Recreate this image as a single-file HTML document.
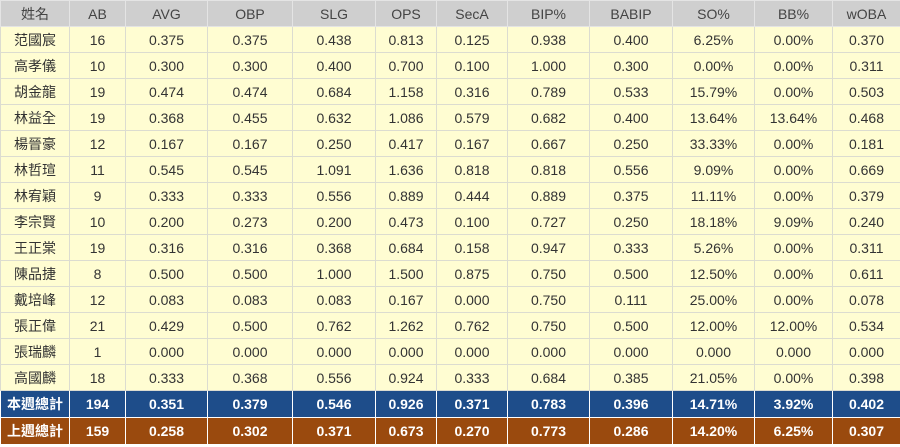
<!DOCTYPE html>
<html><head><meta charset="utf-8"><style>
body{margin:0;width:900px;height:447px;overflow:hidden;background:#fff;font-family:"Liberation Sans","Noto Sans CJK TC",sans-serif;font-size:14px;color:#333}
table{border-collapse:collapse;table-layout:fixed;width:900px}
td{text-align:center;border:1px solid #dcdcd0;padding:0;height:25px;white-space:nowrap}
tr.h td{background:#cfcfcf;height:25px;border-color:#e4e4e4;color:#444}
tr.d td{background:#fffdd2}
tr.b td{background:#1e4d8a;color:#fff;height:26px;border-color:#fff;font-weight:bold}
tr.o td{background:#9a4a0e;color:#fff;height:26px;border-color:#fff;font-weight:bold}
</style></head><body>
<table>
<colgroup><col style="width:69px"><col style="width:56px"><col style="width:82px"><col style="width:85px"><col style="width:83px"><col style="width:61px"><col style="width:71px"><col style="width:82px"><col style="width:83px"><col style="width:82px"><col style="width:78px"><col style="width:68px"></colgroup>
<tr class="h"><td>姓名</td><td>AB</td><td>AVG</td><td>OBP</td><td>SLG</td><td>OPS</td><td>SecA</td><td>BIP%</td><td>BABIP</td><td>SO%</td><td>BB%</td><td>wOBA</td></tr>
<tr class="d"><td>范國宸</td><td>16</td><td>0.375</td><td>0.375</td><td>0.438</td><td>0.813</td><td>0.125</td><td>0.938</td><td>0.400</td><td>6.25%</td><td>0.00%</td><td>0.370</td></tr>
<tr class="d"><td>高孝儀</td><td>10</td><td>0.300</td><td>0.300</td><td>0.400</td><td>0.700</td><td>0.100</td><td>1.000</td><td>0.300</td><td>0.00%</td><td>0.00%</td><td>0.311</td></tr>
<tr class="d"><td>胡金龍</td><td>19</td><td>0.474</td><td>0.474</td><td>0.684</td><td>1.158</td><td>0.316</td><td>0.789</td><td>0.533</td><td>15.79%</td><td>0.00%</td><td>0.503</td></tr>
<tr class="d"><td>林益全</td><td>19</td><td>0.368</td><td>0.455</td><td>0.632</td><td>1.086</td><td>0.579</td><td>0.682</td><td>0.400</td><td>13.64%</td><td>13.64%</td><td>0.468</td></tr>
<tr class="d"><td>楊晉豪</td><td>12</td><td>0.167</td><td>0.167</td><td>0.250</td><td>0.417</td><td>0.167</td><td>0.667</td><td>0.250</td><td>33.33%</td><td>0.00%</td><td>0.181</td></tr>
<tr class="d"><td>林哲瑄</td><td>11</td><td>0.545</td><td>0.545</td><td>1.091</td><td>1.636</td><td>0.818</td><td>0.818</td><td>0.556</td><td>9.09%</td><td>0.00%</td><td>0.669</td></tr>
<tr class="d"><td>林宥穎</td><td>9</td><td>0.333</td><td>0.333</td><td>0.556</td><td>0.889</td><td>0.444</td><td>0.889</td><td>0.375</td><td>11.11%</td><td>0.00%</td><td>0.379</td></tr>
<tr class="d"><td>李宗賢</td><td>10</td><td>0.200</td><td>0.273</td><td>0.200</td><td>0.473</td><td>0.100</td><td>0.727</td><td>0.250</td><td>18.18%</td><td>9.09%</td><td>0.240</td></tr>
<tr class="d"><td>王正棠</td><td>19</td><td>0.316</td><td>0.316</td><td>0.368</td><td>0.684</td><td>0.158</td><td>0.947</td><td>0.333</td><td>5.26%</td><td>0.00%</td><td>0.311</td></tr>
<tr class="d"><td>陳品捷</td><td>8</td><td>0.500</td><td>0.500</td><td>1.000</td><td>1.500</td><td>0.875</td><td>0.750</td><td>0.500</td><td>12.50%</td><td>0.00%</td><td>0.611</td></tr>
<tr class="d"><td>戴培峰</td><td>12</td><td>0.083</td><td>0.083</td><td>0.083</td><td>0.167</td><td>0.000</td><td>0.750</td><td>0.111</td><td>25.00%</td><td>0.00%</td><td>0.078</td></tr>
<tr class="d"><td>張正偉</td><td>21</td><td>0.429</td><td>0.500</td><td>0.762</td><td>1.262</td><td>0.762</td><td>0.750</td><td>0.500</td><td>12.00%</td><td>12.00%</td><td>0.534</td></tr>
<tr class="d"><td>張瑞麟</td><td>1</td><td>0.000</td><td>0.000</td><td>0.000</td><td>0.000</td><td>0.000</td><td>0.000</td><td>0.000</td><td>0.000</td><td>0.000</td><td>0.000</td></tr>
<tr class="d"><td>高國麟</td><td>18</td><td>0.333</td><td>0.368</td><td>0.556</td><td>0.924</td><td>0.333</td><td>0.684</td><td>0.385</td><td>21.05%</td><td>0.00%</td><td>0.398</td></tr>
<tr class="b"><td>本週總計</td><td>194</td><td>0.351</td><td>0.379</td><td>0.546</td><td>0.926</td><td>0.371</td><td>0.783</td><td>0.396</td><td>14.71%</td><td>3.92%</td><td>0.402</td></tr>
<tr class="o"><td>上週總計</td><td>159</td><td>0.258</td><td>0.302</td><td>0.371</td><td>0.673</td><td>0.270</td><td>0.773</td><td>0.286</td><td>14.20%</td><td>6.25%</td><td>0.307</td></tr>
</table>
</body></html>
